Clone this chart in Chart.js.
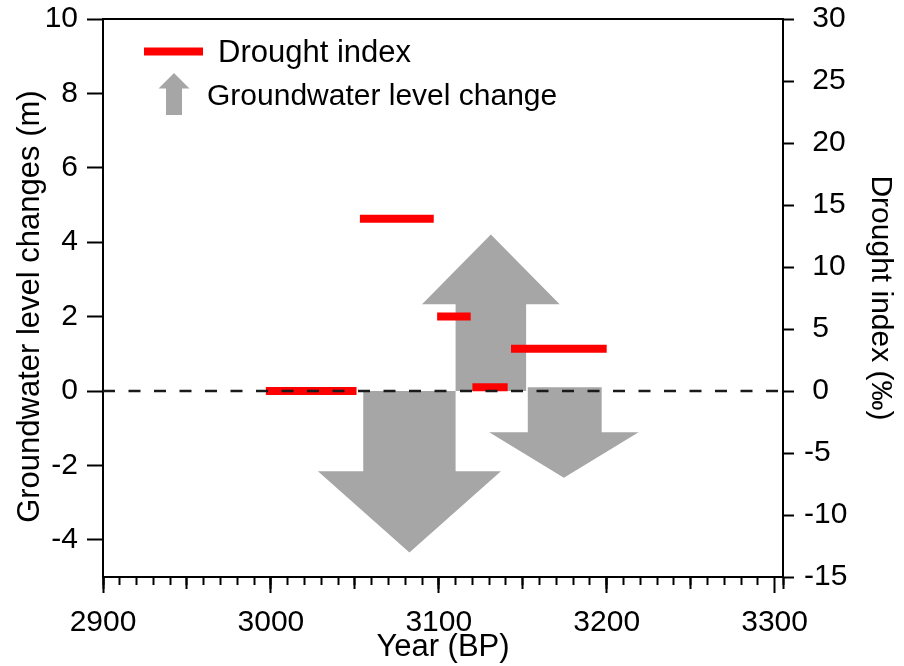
<!DOCTYPE html>
<html>
<head>
<meta charset="utf-8">
<script src="https://cdn.jsdelivr.net/npm/chart.js@4.4.1/dist/chart.umd.min.js"></script>
<style>
  body { margin: 0; background: #fff; }
  #wrap { width: 904px; height: 666px; }
</style>
</head>
<body>
<div id="wrap"><canvas id="chart"></canvas></div>
<script>
// drought index segments (right axis, per mil)
const droughtFrom  = [2997, 3053, 3099, 3120, 3143];
const droughtTo    = [3051, 3097, 3119, 3141, 3200];
const droughtIndex = [0, 13.9, 6, 0.3, 3.4];

// groundwater level change arrows (left axis, m)
const arrowShaftFrom = [3055, 3110, 3153];
const arrowShaftTo   = [3110, 3152, 3197];
const arrowHeadFrom  = [3028, 3090, 3130];
const arrowHeadTo    = [3137, 3172, 3219];
const arrowStart     = [0, 0, 0.1];
const arrowNeck      = [-2.16, 2.33, -1.11];
const arrowChange    = [-4.34, 4.21, -2.33];

// tick labels
const yearTicks    = [2900, 3000, 3100, 3200, 3300];
const levelTicks   = [-4, -2, 0, 2, 4, 6, 8, 10];
const droughtTicks = [-15, -10, -5, 0, 5, 10, 15, 20, 25, 30];

const FONT = '"Liberation Sans", Arial, sans-serif';
Chart.defaults.font.family = FONT;
Chart.defaults.color = '#000';

function arrowPoints(i) {
  const tipX = (arrowHeadFrom[i] + arrowHeadTo[i]) / 2;
  return [
    {x: arrowShaftFrom[i], y: arrowStart[i]},
    {x: arrowShaftTo[i], y: arrowStart[i]},
    {x: arrowShaftTo[i], y: arrowNeck[i]},
    {x: arrowHeadTo[i], y: arrowNeck[i]},
    {x: tipX, y: arrowChange[i]},
    {x: arrowHeadFrom[i], y: arrowNeck[i]},
    {x: arrowShaftFrom[i], y: arrowNeck[i]},
    {x: arrowShaftFrom[i], y: arrowStart[i]}
  ];
}

const datasets = [];
// zero line
datasets.push({
  data: [{x: 2900, y: 0}, {x: 3305, y: 0}],
  showLine: true, borderColor: '#1a1a1a', borderWidth: 2.5, borderDash: [12, 13.5],
  pointRadius: 0, yAxisID: 'y', xAxisID: 'x'
});
droughtFrom.forEach((f, i) => {
  datasets.push({
    data: [{x: f, y: droughtIndex[i]}, {x: droughtTo[i], y: droughtIndex[i]}],
    showLine: true, borderColor: '#ff0000', borderWidth: 8, borderCapStyle: 'butt',
    pointRadius: 0, yAxisID: 'y2', xAxisID: 'x'
  });
});
arrowShaftFrom.forEach((f, i) => {
  datasets.push({
    data: arrowPoints(i),
    showLine: true, borderColor: 'rgba(0,0,0,0)', borderWidth: 0,
    backgroundColor: '#a6a6a6', fill: 'shape', tension: 0,
    pointRadius: 0, yAxisID: 'y', xAxisID: 'x'
  });
});

// legend drawn by hand (line sample + arrow icon)
const sketchLegend = {
  id: 'sketchLegend',
  afterDraw(chart) {
    const ctx = chart.ctx;
    ctx.save();
    ctx.strokeStyle = '#ff0000';
    ctx.lineWidth = 8;
    ctx.beginPath();
    ctx.moveTo(144, 51.5);
    ctx.lineTo(203, 51.5);
    ctx.stroke();

    ctx.fillStyle = '#a6a6a6';
    ctx.beginPath();
    ctx.moveTo(174, 73);
    ctx.lineTo(189.5, 88.5);
    ctx.lineTo(182, 88.5);
    ctx.lineTo(182, 115);
    ctx.lineTo(166, 115);
    ctx.lineTo(166, 88.5);
    ctx.lineTo(158.5, 88.5);
    ctx.closePath();
    ctx.fill();

    ctx.fillStyle = '#000';
    ctx.textBaseline = 'alphabetic';
    ctx.font = '31px ' + FONT;
    ctx.fillText('Drought index', 218, 62);
    ctx.font = '30px ' + FONT;
    ctx.fillText('Groundwater level change', 207, 105);
    ctx.restore();
  }
};

function noPadV(width) {
  return s => { s.width = width; s.paddingTop = 0; s.paddingBottom = 0; };
}

new Chart('chart', {
  type: 'scatter',
  data: { datasets: datasets },
  options: {
    responsive: true,
    maintainAspectRatio: false,
    animation: false,
    events: [],
    layout: { padding: 0 },
    plugins: { legend: { display: false }, tooltip: { enabled: false } },
    scales: {
      x: {
        type: 'linear', position: 'bottom', min: 2900, max: 3305,
        afterFit: s => { s.height = 89; s.paddingLeft = 0; s.paddingRight = 0; },
        afterBuildTicks: s => { s.ticks = yearTicks.map(v => ({value: v})); },
        grid: { drawOnChartArea: false, tickLength: 16, tickWidth: 2, tickColor: '#000' },
        border: { color: '#000', width: 2 },
        ticks: { font: { size: 30 }, padding: 12, maxRotation: 0, autoSkip: false, callback: v => String(v) },
        title: { display: true, text: 'Year (BP)', font: { size: 31 }, padding: { top: 0, bottom: 0 } }
      },
      xMid: {
        type: 'linear', axis: 'x', position: { y: -5 }, min: 2900, max: 3305,
        ticks: { display: false, stepSize: 50 },
        grid: { drawOnChartArea: false, tickLength: 12, tickWidth: 2, tickColor: '#000' },
        border: { display: false }
      },
      xMinor: {
        type: 'linear', axis: 'x', position: { y: -5 }, min: 2900, max: 3305,
        ticks: { display: false, stepSize: 10 },
        grid: { drawOnChartArea: false, tickLength: 8, tickWidth: 2, tickColor: '#000' },
        border: { display: false }
      },
      xTop: {
        type: 'linear', axis: 'x', position: 'top', min: 2900, max: 3305,
        afterFit: s => { s.height = 19; s.paddingLeft = 0; s.paddingRight = 0; },
        ticks: { display: false },
        grid: { drawOnChartArea: false, drawTicks: false },
        border: { color: '#000', width: 2 }
      },
      y: {
        type: 'linear', position: 'left', min: -5, max: 10,
        afterFit: noPadV(103),
        afterBuildTicks: s => { s.ticks = levelTicks.map(v => ({value: v})); },
        grid: { drawOnChartArea: false, tickLength: 16, tickWidth: 2, tickColor: '#000' },
        border: { color: '#000', width: 2 },
        ticks: { font: { size: 30 }, padding: 9, callback: v => String(v) },
        title: { display: true, text: 'Groundwater level changes (m)  ', font: { size: 31 }, padding: { top: 12 } }
      },
      y2: {
        type: 'linear', position: 'right', min: -15, max: 30,
        afterFit: noPadV(121),
        afterBuildTicks: s => { s.ticks = droughtTicks.map(v => ({value: v})); },
        grid: { drawOnChartArea: false, tickLength: 11, tickWidth: 2, tickColor: '#000' },
        border: { color: '#000', width: 2 },
        ticks: { font: { size: 30 }, padding: 10, callback: v => (v >= 0 ? ' ' + v : String(v)) },
        title: { display: true, text: 'Drought index (\u2030)', font: { size: 30 }, padding: { top: 6 } }
      }
    }
  },
  plugins: [sketchLegend]
});
</script>
</body>
</html>
